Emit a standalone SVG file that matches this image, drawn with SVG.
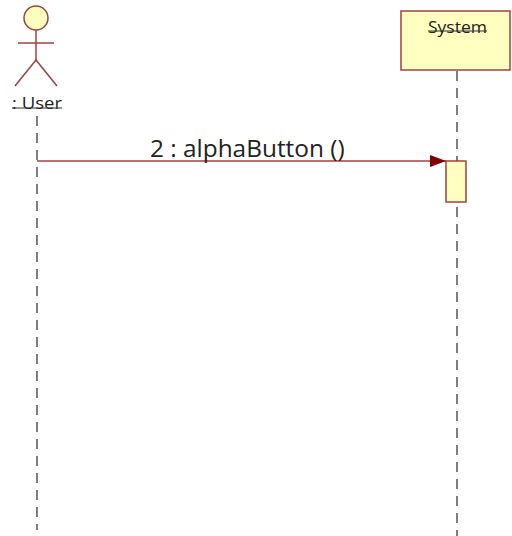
<svg xmlns="http://www.w3.org/2000/svg" width="512" height="536" viewBox="0 0 512 536">
<style>
.life{stroke:#555;stroke-width:1.5;stroke-dasharray:10 7;fill:none}
.shape{fill:#ffffc0;stroke:#a04040;stroke-width:1.5}
.stick{stroke:#a04040;stroke-width:1.5;fill:none}
.lbl{font-family:"Open Sans","Noto Sans",sans-serif;fill:#222}
</style>
<defs>
<marker id="arr" markerWidth="16" markerHeight="12" refX="16" refY="6" orient="auto" markerUnits="userSpaceOnUse">
<path d="M0,0 L16,6 L0,12 Z" fill="#800000"/>
</marker>
</defs>
<rect width="512" height="536" fill="#fff"/>
<g id="user">
<circle class="shape" cx="36" cy="18" r="12"/>
<line class="stick" x1="36" y1="30" x2="36" y2="60"/>
<line class="stick" x1="18" y1="43" x2="54" y2="43"/>
<path class="stick" d="M15,86 L36,60 L57,86"/>
<text class="lbl" x="12" y="109" font-size="16" textLength="50" lengthAdjust="spacingAndGlyphs">: User</text>
<line x1="12" y1="108" x2="62" y2="108" stroke="#333" stroke-width="1"/>
<line class="life" x1="37" y1="116" x2="37" y2="530"/>
</g>
<g id="system">
<rect class="shape" x="401" y="11" width="109" height="59"/>
<text class="lbl" x="428" y="33" font-size="16.5" textLength="59" lengthAdjust="spacingAndGlyphs">System</text>
<line x1="428" y1="31" x2="487" y2="31" stroke="#333" stroke-width="1"/>
<line class="life" x1="457" y1="71" x2="457" y2="536"/>
<rect id="activation" class="shape" x="446" y="161" width="20" height="41"/>
</g>
<g id="connectors">
<line x1="37" y1="161" x2="446" y2="161" stroke="#a04040" stroke-width="1.5" marker-end="url(#arr)"/>
<text class="lbl" x="150" y="157" font-size="24.4">2 : alphaButton ()</text>
</g>
</svg>
